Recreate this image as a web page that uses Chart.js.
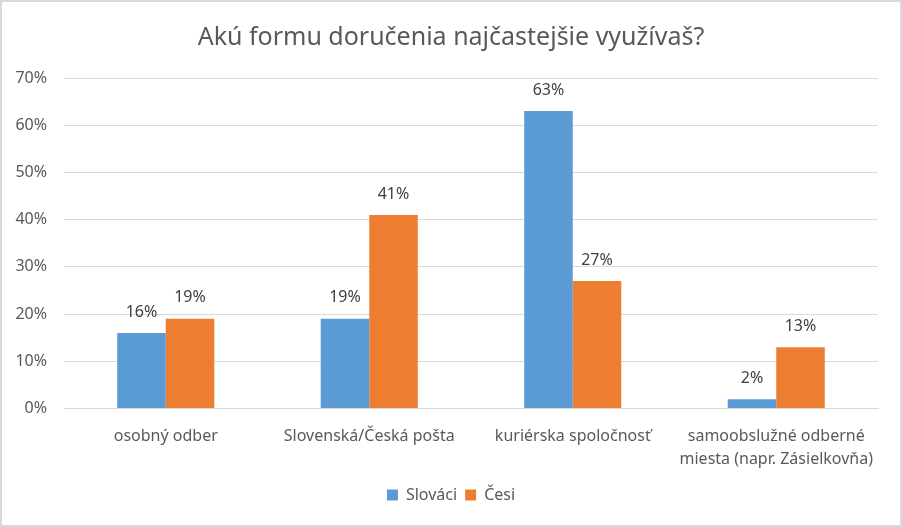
<!DOCTYPE html>
<html>
<head>
<meta charset="utf-8">
<script src="https://cdn.jsdelivr.net/npm/chart.js@4/dist/chart.umd.min.js"></script>
<style>
  body { margin: 0; background: #fff; }
  #wrap { position: relative; width: 902px; height: 527px; }
  #ram { position: absolute; left: 0; top: 0; width: 902px; height: 527px; box-sizing: border-box; border: 2px solid #d9d9d9; pointer-events: none; }
</style>
</head>
<body>
<div id="wrap">
  <canvas id="myChart" width="902" height="527"></canvas>
  <div id="ram"></div>
</div>
<script>
// data
const kategorie = ["osobný odber", "Slovenská/Česká pošta", "kuriérska spoločnosť", ["samoobslužné odberné", "miesta (napr. Zásielkovňa)"]]
const slovaci = [16, 19, 63, 2]
const cesi = [19, 41, 27, 13]
const yTicky = [0, 10, 20, 30, 40, 50, 60, 70]

const pismo = "'Noto Sans', sans-serif"

// popisky nad stlpcami
const popisky = {
  id: "popisky",
  afterDatasetsDraw(chart) {
    const ctx = chart.ctx
    ctx.save()
    ctx.font = "16px " + pismo
    ctx.fillStyle = "#404040"
    ctx.textAlign = "center"
    ctx.textBaseline = "middle"
    chart.data.datasets.forEach((ds, i) => {
      chart.getDatasetMeta(i).data.forEach((bar, j) => {
        ctx.fillText(ds.data[j] + "%", bar.x, bar.y - 21)
      })
    })
    ctx.restore()
  }
}

const config = {
  type: "bar",
  data: {
    labels: kategorie,
    datasets: [
      { label: "Slováci", data: slovaci, backgroundColor: "#5b9bd5", barPercentage: 1, categoryPercentage: 0.477 },
      { label: "Česi", data: cesi, backgroundColor: "#ed7d31", barPercentage: 1, categoryPercentage: 0.477 }
    ]
  },
  options: {
    responsive: false,
    animation: false,
    layout: { padding: { left: 0, right: 0, top: 0, bottom: 14 } },
    plugins: {
      title: {
        display: true,
        text: "Akú formu doručenia najčastejšie využívaš?",
        color: "#595959",
        font: { family: pismo, size: 25, weight: "normal" },
        padding: { top: 23, bottom: 25 }
      },
      legend: {
        position: "bottom",
        labels: {
          color: "#595959",
          font: { family: pismo, size: 16 },
          boxWidth: 11,
          boxHeight: 11,
          padding: 8
        }
      },
      tooltip: { enabled: false }
    },
    scales: {
      x: {
        grid: { display: false },
        border: { color: "#d9d9d9" },
        ticks: { color: "#595959", font: { family: pismo, size: 16, lineHeight: 1.45 }, padding: 8, maxRotation: 0 }
      },
      y: {
        min: 0,
        max: 70,
        afterBuildTicks(axis) { axis.ticks = yTicky.map(v => ({ value: v })) },
        afterFit(axis) { axis.width = 64 },
        grid: { color: "#d9d9d9", drawTicks: false },
        border: { display: false },
        ticks: { color: "#595959", font: { family: pismo, size: 16 }, padding: 17, callback: v => v + "%" }
      },
      // prazdna os vpravo, len kvoli medzere
      y2: {
        position: "right",
        min: 0,
        max: 70,
        afterFit(axis) { axis.width = 24 },
        grid: { display: false },
        border: { display: false },
        ticks: { display: false }
      }
    }
  },
  plugins: [popisky]
}

const myChart = document.getElementById("myChart")
const chart = new Chart(myChart, config)
</script>
</body>
</html>
